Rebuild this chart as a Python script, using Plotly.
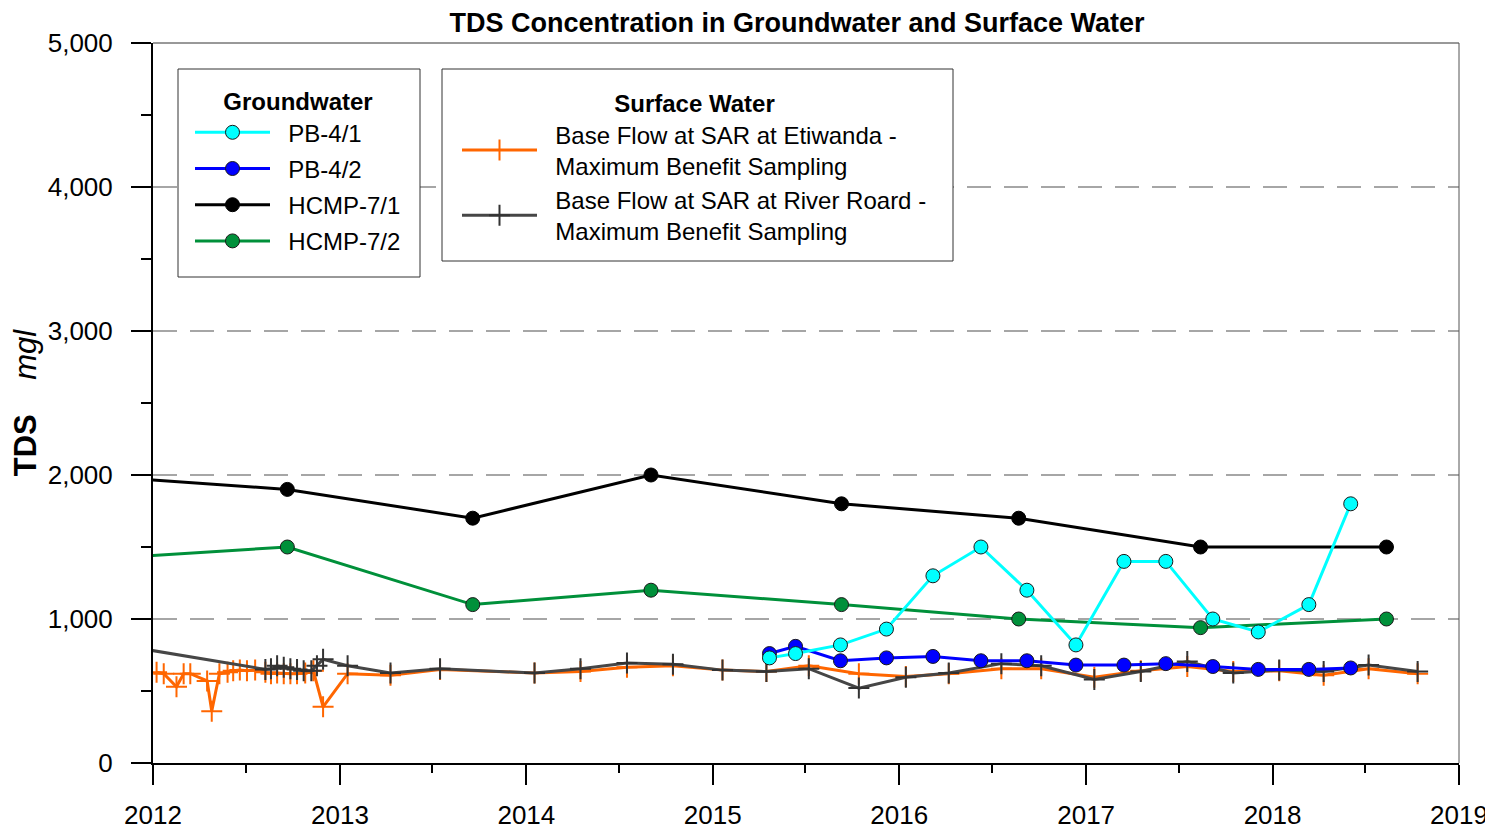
import plotly.graph_objects as go

# ---------------- data ----------------
hcmp_dates = ["2011-08-11", "2012-09-20", "2013-09-18", "2014-09-02", "2015-09-10",
              "2016-08-22", "2017-08-13", "2018-08-12"]
hcmp71_tds = [2000, 1900, 1700, 2000, 1800, 1700, 1500, 1500]
hcmp72_tds = [1410, 1500, 1100, 1200, 1100, 1000, 940, 1000]

pb_dates = ["2015-04-22", "2015-06-12", "2015-09-08", "2015-12-07", "2016-03-07",
            "2016-06-09", "2016-09-07", "2016-12-12", "2017-03-16", "2017-06-06",
            "2017-09-06", "2017-12-04", "2018-03-13", "2018-06-03"]
pb41_tds = [730, 760, 820, 930, 1300, 1500, 1200, 820, 1400, 1400, 1000, 910, 1100, 1800]
pb42_tds = [760, 810, 710, 730, 740, 710, 710, 680, 680, 690, 670, 650, 650, 660]

etiwanda_dates = ["2012-01-08", "2012-01-22", "2012-02-16", "2012-03-01", "2012-03-14",
                  "2012-04-16", "2012-04-25", "2012-05-10", "2012-05-26", "2012-06-06",
                  "2012-06-19", "2012-07-03", "2012-07-19", "2012-08-08", "2012-08-19",
                  "2012-08-31", "2012-09-13", "2012-09-26", "2012-10-09", "2012-10-25",
                  "2012-11-10", "2012-11-29", "2013-01-16", "2013-04-10", "2013-07-16",
                  "2014-01-17", "2014-04-17", "2014-07-17", "2014-10-15", "2015-01-20",
                  "2015-04-16", "2015-07-08", "2015-10-14", "2016-01-14", "2016-04-07",
                  "2016-07-19", "2016-10-05", "2017-01-17", "2017-04-18", "2017-07-18",
                  "2017-10-16", "2018-01-14", "2018-04-11", "2018-07-08", "2018-10-12"]
etiwanda_tds = [630, 620, 530, 620, 620, 570, 360, 620, 630, 640,
                645, 640, 645, 630, 620, 625, 620, 620, 620, 625,
                640, 390, 620, 610, 650, 625, 635, 665, 675, 645,
                635, 675, 620, 600, 620, 655, 655, 595, 640, 670,
                635, 640, 610, 655, 620]

riverroad_dates = ["2011-10-01", "2012-08-08", "2012-08-19", "2012-08-31", "2012-09-13",
                   "2012-09-26", "2012-10-09", "2012-10-22", "2012-11-06", "2012-11-17",
                   "2012-11-29", "2013-01-16", "2013-04-10", "2013-07-16", "2014-01-17",
                   "2014-04-17", "2014-07-17", "2014-10-15", "2015-01-20", "2015-04-16",
                   "2015-07-08", "2015-10-14", "2016-01-14", "2016-04-07", "2016-07-19",
                   "2016-10-05", "2017-01-17", "2017-04-18", "2017-07-18", "2017-10-16",
                   "2018-01-14", "2018-04-11", "2018-07-08", "2018-10-12"]
riverroad_tds = [835, 650, 655, 675, 665, 655, 650, 640, 640, 675,
                 720, 675, 625, 655, 625, 655, 695, 685, 645, 635,
                 655, 520, 595, 625, 690, 675, 580, 635, 705, 625,
                 645, 635, 680, 635]

y_ticks = [0, 1000, 2000, 3000, 4000, 5000]
x_ticks = ["2012-01-01", "2013-01-01", "2014-01-01", "2015-01-01",
           "2016-01-01", "2017-01-01", "2018-01-01", "2019-01-01"]
x_tick_labels = ["2012", "2013", "2014", "2015", "2016", "2017", "2018", "2019"]

FONT = "Arial, Liberation Sans, sans-serif"

# the page body has an 8px default margin; size the figure to fit the window
OFF = 8
W, H = 1485, 827
PL, PR, PT, PB = 145, 34, 35, 72
PW = W - PL - PR
PH = H - PT - PB
X0 = PL + OFF          # screen x of plot left
Y1 = PT + OFF + PH     # screen y of plot bottom


def px(sx):
    return (sx - X0) / PW


def py(sy):
    return (Y1 - sy) / PH


NB = "\u00a0\u00a0"

fig = go.Figure()

cross = dict(symbol="cross-thin", size=15)
circle_line = dict(color="#1a1a1a", width=1)

fig.add_trace(go.Scatter(
    x=etiwanda_dates, y=etiwanda_tds, mode="lines+markers",
    name=NB + "Base Flow at SAR at Etiwanda -<br>" + NB + "Maximum Benefit Sampling",
    line=dict(color="#FF6600", width=3),
    marker=dict(**cross, line=dict(color="#FF6600", width=2)),
    legend="legend2", legendrank=1, legendgroup="s1"))
fig.add_trace(go.Scatter(
    x=riverroad_dates, y=riverroad_tds, mode="lines+markers",
    name=NB + "Base Flow at SAR at River Roard -<br>" + NB + "Maximum Benefit Sampling",
    line=dict(color="#464646", width=3),
    marker=dict(**cross, line=dict(color="#333333", width=2)),
    legend="legend2", legendrank=2, legendgroup="s2"))

fig.add_trace(go.Scatter(
    x=hcmp_dates, y=hcmp72_tds, mode="lines+markers", name=NB + "HCMP-7/2",
    line=dict(color="#00903A", width=3),
    marker=dict(symbol="circle", size=14, color="#00903A", line=circle_line),
    legend="legend", legendrank=4, legendgroup="g4"))
fig.add_trace(go.Scatter(
    x=hcmp_dates, y=hcmp71_tds, mode="lines+markers", name=NB + "HCMP-7/1",
    line=dict(color="#000000", width=3),
    marker=dict(symbol="circle", size=14, color="#000000", line=dict(color="#000000", width=1)),
    legend="legend", legendrank=3, legendgroup="g3"))
fig.add_trace(go.Scatter(
    x=pb_dates, y=pb42_tds, mode="lines+markers", name=NB + "PB-4/2",
    line=dict(color="#0000FF", width=3),
    marker=dict(symbol="circle", size=14, color="#0000FF", line=circle_line),
    legend="legend", legendrank=2, legendgroup="g2"))
fig.add_trace(go.Scatter(
    x=pb_dates, y=pb41_tds, mode="lines+markers", name=NB + "PB-4/1",
    line=dict(color="#00FFFF", width=3),
    marker=dict(symbol="circle", size=14, color="#00FFFF", line=circle_line),
    legend="legend", legendrank=1, legendgroup="g1"))

leg_common = dict(
    xanchor="left", yanchor="top", borderwidth=0, bgcolor="rgba(0,0,0,0)",
    font=dict(size=24, family=FONT), itemwidth=75)

fig.update_layout(
    width=W, height=H,
    margin=dict(l=PL, r=PR, t=PT, b=PB, autoexpand=False),
    paper_bgcolor="white", plot_bgcolor="white",
    font=dict(family=FONT, size=24, color="#000000"),
    title=dict(text="<b>TDS Concentration in Groundwater and Surface Water</b>",
               x=(797 - OFF) / W, xanchor="center", xref="container",
               y=1 - (23 - OFF) / H, yanchor="middle", yref="container",
               font=dict(size=27, family=FONT)),
    showlegend=True,
    legend=dict(
        x=px(190), y=py(79), tracegroupgap=2,
        title=dict(text="<b>Groundwater</b>", side="top center",
                   font=dict(size=24, family=FONT)),
        **leg_common),
    legend2=dict(
        x=px(457), y=py(81), tracegroupgap=0,
        title=dict(text="<b>Surface Water</b>", side="top center",
                   font=dict(size=24, family=FONT)),
        **leg_common),
    xaxis=dict(
        type="date", range=["2012-01-01", "2019-01-01"],
        tickvals=x_ticks, ticktext=x_tick_labels,
        ticks="outside", ticklen=20, tickwidth=2, tickcolor="black",
        minor=dict(dtick="M6", ticks="outside", ticklen=8, tickwidth=2, tickcolor="black",
                   showgrid=False),
        showline=True, linecolor="black", linewidth=2,
        showgrid=False, zeroline=False,
        tickfont=dict(size=26, family=FONT), ticklabelstandoff=8),
    yaxis=dict(
        range=[0, 5000], tickvals=y_ticks, tickformat=",d",
        ticks="outside", ticklen=20, tickwidth=2, tickcolor="black",
        minor=dict(dtick=500, ticks="outside", ticklen=10, tickwidth=2, tickcolor="black",
                   showgrid=False),
        showline=True, linecolor="black", linewidth=2,
        showgrid=True, gridcolor="#A6A6A6", gridwidth=2, griddash="24px,13px",
        zeroline=False,
        tickfont=dict(size=26, family=FONT), ticklabelstandoff=13,
        title=dict(text="<b>TDS</b>    <i>mgl</i>", font=dict(size=31, family=FONT),
                   standoff=10)),
)

# legend boxes
for (sx0, sy0, sx1, sy1) in [(178, 69, 420, 277), (442, 69, 953, 261)]:
    fig.add_shape(type="rect", xref="paper", yref="paper",
                  x0=px(sx0), x1=px(sx1), y0=py(sy1), y1=py(sy0),
                  line=dict(color="#333333", width=1), fillcolor="white", layer="above")

# thin frame on top and right
fig.add_shape(type="line", xref="paper", yref="paper", x0=0, x1=1, y0=1, y1=1,
              line=dict(color="#333333", width=1), layer="above")
fig.add_shape(type="line", xref="paper", yref="paper", x0=1, x1=1, y0=0, y1=1,
              line=dict(color="#555555", width=1), layer="above")

fig.write_html("out.html")
